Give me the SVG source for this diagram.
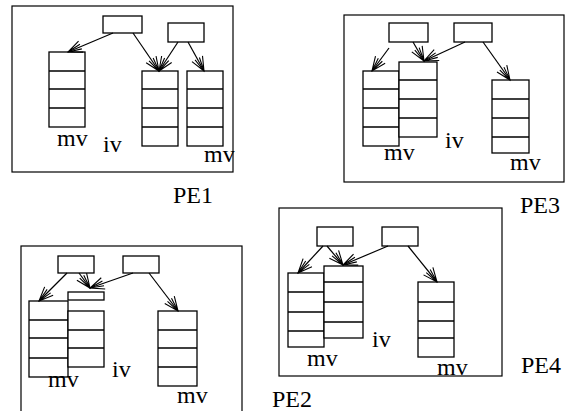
<svg xmlns="http://www.w3.org/2000/svg" width="575" height="411" viewBox="0 0 575 411">
  <style>
    .pe { fill: none; stroke: #000; stroke-width: 1.2; }
    .box { fill: #fff; stroke: #000; stroke-width: 1.3; }
    .sep { stroke: #000; stroke-width: 1.5; }
    .edge { fill: none; stroke: #000; stroke-width: 1.2; marker-end: url(#head); }
    text { font-family: "Liberation Serif", "Times New Roman", serif; font-size: 24px; fill: #000; }
  </style>
  <defs>
    <!-- open fan-style arrowhead -->
    <marker id="head" markerUnits="userSpaceOnUse" markerWidth="20" markerHeight="20" refX="0" refY="0" viewBox="-15 -10 20 20" orient="auto" overflow="visible">
      <path d="M-14,-6 L0,0 L-14,6 M-14,-2.5 L0,0 L-14,2.5" fill="none" stroke="#000" stroke-width="1.1"/>
    </marker>
  </defs>

  <rect width="575" height="411" fill="#fff"/>

  <!-- PE1 -->
  <g id="pe1">
    <rect class="pe" x="12" y="6" width="221" height="166"/>
    <text x="173" y="203">PE1</text>
  </g>
  <g id="pe1-ptr-a"><rect class="box" x="103" y="16" width="39" height="17"/></g>
  <g id="pe1-ptr-b"><rect class="box" x="168" y="23" width="36" height="19"/></g>
  <g id="pe1-mv-left">
    <rect class="box" x="49" y="52" width="36" height="75"/>
    <path class="sep" d="M49,71H85M49,89H85M49,108H85"/>
    <text x="57" y="146">mv</text>
  </g>
  <g id="pe1-iv">
    <rect class="box" x="142" y="71" width="36" height="75"/>
    <path class="sep" d="M142,89H178M142,108H178M142,127H178"/>
    <text x="103" y="152">iv</text>
  </g>
  <g id="pe1-mv-right">
    <rect class="box" x="187" y="71" width="36" height="75"/>
    <path class="sep" d="M187,89H223M187,108H223M187,127H223"/>
    <text x="204" y="162">mv</text>
  </g>

  <!-- PE3 -->
  <g id="pe3">
    <rect class="pe" x="344" y="15" width="220" height="167"/>
    <text x="520" y="213">PE3</text>
  </g>
  <g id="pe3-ptr-a"><rect class="box" x="389" y="23" width="39" height="19"/></g>
  <g id="pe3-ptr-b"><rect class="box" x="454" y="23" width="38" height="19"/></g>
  <g id="pe3-mv-left">
    <rect class="box" x="363" y="71" width="36" height="75"/>
    <path class="sep" d="M363,89H399M363,108H399M363,127H399"/>
    <text x="384" y="160">mv</text>
  </g>
  <g id="pe3-iv">
    <rect class="box" x="399" y="62" width="38" height="75"/>
    <path class="sep" d="M399,80H437M399,99H437M399,118H437"/>
    <text x="445" y="148">iv</text>
  </g>
  <g id="pe3-mv-right">
    <rect class="box" x="492" y="80" width="37" height="73"/>
    <path class="sep" d="M492,99H529M492,118H529M492,137H529"/>
    <text x="510" y="170">mv</text>
  </g>

  <!-- PE2 -->
  <g id="pe2">
    <rect class="pe" x="21" y="246" width="221" height="180"/>
    <text x="272" y="407">PE2</text>
  </g>
  <g id="pe2-ptr-a"><rect class="box" x="58" y="256" width="36" height="17"/></g>
  <g id="pe2-ptr-b"><rect class="box" x="123" y="256" width="36" height="17"/></g>
  <g id="pe2-bar"><rect class="box" x="68" y="292" width="36" height="8"/></g>
  <g id="pe2-mv-left">
    <rect class="box" x="29" y="301" width="39" height="76"/>
    <path class="sep" d="M29,320H68M29,338H68M29,358H68"/>
    <text x="48" y="387">mv</text>
  </g>
  <g id="pe2-iv">
    <rect class="box" x="68" y="311" width="36" height="56"/>
    <path class="sep" d="M68,330H104M68,348H104"/>
    <text x="112" y="377">iv</text>
  </g>
  <g id="pe2-mv-right">
    <rect class="box" x="158" y="311" width="39" height="75"/>
    <path class="sep" d="M158,330H197M158,348H197M158,367H197"/>
    <text x="177" y="403">mv</text>
  </g>

  <!-- PE4 -->
  <g id="pe4">
    <rect class="pe" x="279" y="208" width="223" height="168"/>
    <text x="521" y="373">PE4</text>
  </g>
  <g id="pe4-ptr-a"><rect class="box" x="317" y="227" width="36" height="19"/></g>
  <g id="pe4-ptr-b"><rect class="box" x="382" y="227" width="36" height="19"/></g>
  <g id="pe4-mv-left">
    <rect class="box" x="288" y="273" width="36" height="74"/>
    <path class="sep" d="M288,292H324M288,312H324M288,331H324"/>
    <text x="307" y="366">mv</text>
  </g>
  <g id="pe4-iv">
    <rect class="box" x="324" y="266" width="39" height="72"/>
    <path class="sep" d="M324,282H363M324,302H363M324,322H363"/>
    <text x="372" y="347">iv</text>
  </g>
  <g id="pe4-mv-right">
    <rect class="box" x="418" y="282" width="36" height="75"/>
    <path class="sep" d="M418,302H454M418,321H454M418,338H454"/>
    <text x="437" y="375">mv</text>
  </g>

  <!-- pointers -->
  <g id="connectors">
    <line class="edge" x1="113" y1="33" x2="68" y2="52"/>
    <line class="edge" x1="133" y1="33" x2="159" y2="71"/>
    <line class="edge" x1="178" y1="42" x2="159" y2="71"/>
    <line class="edge" x1="188" y1="42" x2="204" y2="71"/>

    <line class="edge" x1="389" y1="48" x2="372" y2="71"/>
    <line class="edge" x1="413" y1="42" x2="424" y2="61"/>
    <line class="edge" x1="465" y1="42" x2="424" y2="61"/>
    <line class="edge" x1="483" y1="42" x2="510" y2="80"/>

    <line class="edge" x1="67" y1="273" x2="39" y2="301"/>
    <line class="edge" x1="79" y1="273" x2="90" y2="288"/>
    <line class="edge" x1="133" y1="273" x2="90" y2="288"/>
    <line class="edge" x1="149" y1="273" x2="178" y2="311"/>

    <line class="edge" x1="323" y1="246" x2="298" y2="273"/>
    <line class="edge" x1="327" y1="246" x2="343" y2="265"/>
    <line class="edge" x1="388" y1="246" x2="343" y2="265"/>
    <line class="edge" x1="408" y1="246" x2="437" y2="282"/>
  </g>
</svg>
